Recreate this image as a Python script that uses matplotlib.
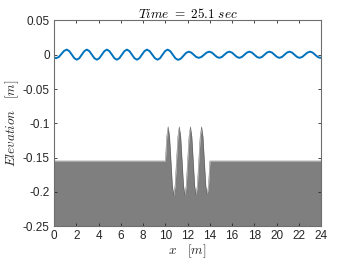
import matplotlib
matplotlib.use("Agg")
import matplotlib.pyplot as plt

plt.rcParams['font.family'] = ['Liberation Sans', 'DejaVu Sans']
plt.rcParams['mathtext.fontset'] = 'cm'
plt.rcParams['axes.unicode_minus'] = False

# ---- data ----
title_text = r"$Time\ =\ 25.1\ sec$"
xlabel_text = r"$x\quad[m]$"
ylabel_text = r"$Elevation\quad[m]$"

x_ticks = [0, 2, 4, 6, 8, 10, 12, 14, 16, 18, 20, 22, 24]
x_tick_labels = ["0", "2", "4", "6", "8", "10", "12", "14", "16", "18", "20", "22", "24"]
y_ticks = [0.05, 0, -0.05, -0.1, -0.15, -0.2, -0.25]
y_tick_labels = ["0.05", "0", "-0.05", "-0.1", "-0.15", "-0.2", "-0.25"]

# free surface elevation
wave_x = [0.0, 0.2, 0.44, 0.675, 0.91, 1.15,
          1.375, 1.6, 1.825, 2.05, 2.275, 2.5, 2.725, 2.95,
          3.175, 3.4, 3.625, 3.85, 4.075, 4.3, 4.525, 4.75,
          4.975, 5.2, 5.425, 5.65, 5.875, 6.1, 6.325, 6.55,
          6.775, 7.0, 7.225, 7.45, 7.675, 7.9, 8.125, 8.35,
          8.59, 8.825, 9.06, 9.3, 9.525, 9.75, 9.975, 10.2,
          10.44, 10.675, 10.91, 11.15, 11.39, 11.625, 11.86, 12.1,
          12.325, 12.55, 12.775, 13.0, 13.24, 13.475, 13.71, 13.95,
          14.175, 14.4, 14.625, 14.85, 15.075, 15.3, 15.525, 15.75,
          15.975, 16.2, 16.425, 16.65, 16.875, 17.1, 17.325, 17.55,
          17.775, 18.0, 18.225, 18.45, 18.675, 18.9, 19.125, 19.35,
          19.575, 19.8, 20.025, 20.25, 20.475, 20.7, 20.925, 21.15,
          21.375, 21.6, 21.825, 22.05, 22.29, 22.525, 22.76, 23.0,
          23.225, 23.45, 23.675, 23.9, 24.0]
wave_eta = [-0.0040, -0.0050, -0.0032, 0.0013, 0.0057, 0.0075,
            0.0053, 0.0002, -0.0050, -0.0072, -0.0050, 0.0002, 0.0053, 0.0075,
            0.0053, 0.0002, -0.0050, -0.0072, -0.0050, 0.0002, 0.0053, 0.0075,
            0.0053, 0.0002, -0.0050, -0.0072, -0.0050, 0.0002, 0.0053, 0.0075,
            0.0053, 0.0002, -0.0050, -0.0072, -0.0050, 0.0002, 0.0053, 0.0075,
            0.0053, 0.0002, -0.0050, -0.0072, -0.0050, 0.0002, 0.0053, 0.0075,
            0.0053, 0.0000, -0.0053, -0.0075, -0.0057, -0.0015, 0.0027, 0.0045,
            0.0032, 0.0000, -0.0032, -0.0045, -0.0032, 0.0000, 0.0032, 0.0045,
            0.0032, 0.0000, -0.0032, -0.0045, -0.0032, 0.0000, 0.0032, 0.0045,
            0.0032, 0.0000, -0.0032, -0.0045, -0.0032, 0.0000, 0.0032, 0.0045,
            0.0032, 0.0000, -0.0032, -0.0045, -0.0032, 0.0000, 0.0032, 0.0045,
            0.0032, 0.0000, -0.0032, -0.0045, -0.0032, 0.0000, 0.0032, 0.0045,
            0.0032, 0.0000, -0.0032, -0.0045, -0.0032, 0.0000, 0.0032, 0.0045,
            0.0032, 0.0000, -0.0032, -0.0045, -0.0040]

# rippled bed profile
bed_x = [0.0, 10.0,
         10.125, 10.25, 10.375, 10.5, 10.625, 10.75, 10.875, 11.0,
         11.125, 11.25, 11.375, 11.5, 11.625, 11.75, 11.875, 12.0,
         12.125, 12.25, 12.375, 12.5, 12.625, 12.75, 12.875, 13.0,
         13.125, 13.25, 13.375, 13.5, 13.625, 13.75, 13.875, 14.0,
         24.0]
bed_z = [-0.155, -0.155,
         -0.1196, -0.105, -0.1196, -0.155, -0.1904, -0.205, -0.1904, -0.155,
         -0.1196, -0.105, -0.1196, -0.155, -0.1904, -0.205, -0.1904, -0.155,
         -0.1196, -0.105, -0.1196, -0.155, -0.1904, -0.205, -0.1904, -0.155,
         -0.1196, -0.105, -0.1196, -0.155, -0.1904, -0.205, -0.1904, -0.155,
         -0.155]
bed_bottom = -0.25

# ---- figure ----
fig = plt.figure(figsize=(3.54, 2.66), dpi=100)
ax = fig.add_axes([0.1525, 0.150, 0.755, 0.773])

ax.fill_between(bed_x, bed_z, bed_bottom, color='#7f7f7f', linewidth=0)
ax.plot(bed_x, bed_z, color='#555555', linewidth=0.3)
ax.plot(wave_x, wave_eta, color='#0072BD', linewidth=1.4)

ax.set_xlim(0, 24)
ax.set_ylim(-0.25, 0.05)
ax.set_xticks(x_ticks)
ax.set_xticklabels(x_tick_labels)
ax.set_yticks(y_ticks)
ax.set_yticklabels(y_tick_labels)

axc = '#262626'
for s in ax.spines.values():
    s.set_color('#6e6e6e')
    s.set_linewidth(0.8)
ax.tick_params(direction='in', length=2.5, width=0.6, color=axc,
               labelsize=8.5, labelcolor=axc, top=True, right=True, pad=3)

ax.set_title(title_text, fontsize=9.5, color='#000000', pad=2)
ax.set_xlabel(xlabel_text, fontsize=9.5, color=axc, labelpad=0)
ax.set_ylabel(ylabel_text, fontsize=9.5, color=axc, labelpad=1)

fig.savefig("out.png", dpi=100)
